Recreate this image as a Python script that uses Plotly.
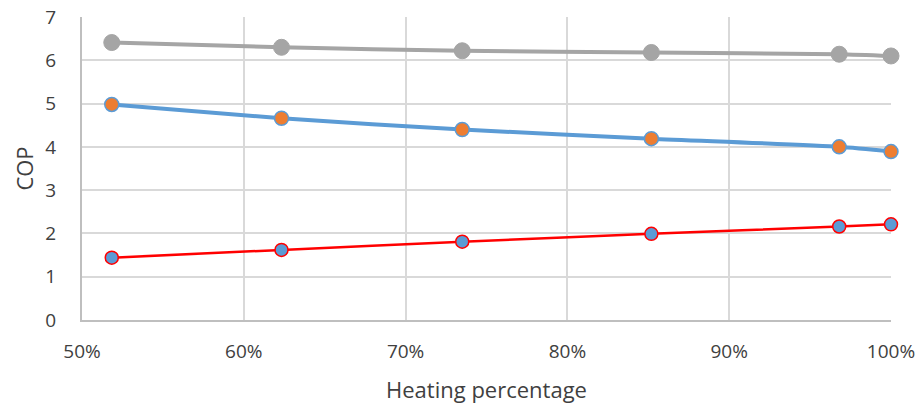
import plotly.graph_objects as go

# Heating percentage (fraction of full load)
heating_pct = [0.5184, 0.6233, 0.735, 0.8519, 0.968, 1.0]

# COP series
cop_gray = [6.41, 6.30, 6.22, 6.18, 6.14, 6.10]
cop_blue = [4.98, 4.66, 4.40, 4.19, 4.00, 3.89]
cop_red = [1.44, 1.62, 1.81, 1.99, 2.16, 2.21]

fig = go.Figure()

fig.add_trace(go.Scatter(
    x=heating_pct, y=cop_gray, mode="lines+markers",
    line=dict(color="#a5a5a5", width=4, shape="spline", smoothing=0.6),
    marker=dict(size=16, color="#a5a5a5", line=dict(color="#a5a5a5", width=1)),
    cliponaxis=False, showlegend=False,
))
fig.add_trace(go.Scatter(
    x=heating_pct, y=cop_blue, mode="lines+markers",
    line=dict(color="#5b9bd5", width=4, shape="spline", smoothing=0.6),
    marker=dict(size=14, color="#ed7d31", line=dict(color="#5b9bd5", width=1.5)),
    cliponaxis=False, showlegend=False,
))
fig.add_trace(go.Scatter(
    x=heating_pct, y=cop_red, mode="lines+markers",
    line=dict(color="#ff0000", width=2.5, shape="spline", smoothing=0.6),
    marker=dict(size=13, color="#5b9bd5", line=dict(color="#ff0000", width=1.5)),
    cliponaxis=False, showlegend=False,
))

fig.update_layout(
    width=922, height=404,
    margin=dict(l=82, r=31, t=17, b=84),
    paper_bgcolor="white", plot_bgcolor="white",
    font=dict(family="Open Sans", color="#404040", size=19),
    xaxis=dict(
        range=[0.5, 1.0], dtick=0.1, tick0=0.5, tickformat=".0%",
        showgrid=True, gridcolor="#d9d9d9", gridwidth=1.8,
        showline=True, linecolor="#bfbfbf", linewidth=2,
        zeroline=False, ticks="", ticklabelstandoff=13, automargin=False,
        title=dict(text="Heating percentage", font=dict(size=22), standoff=20),
    ),
    yaxis=dict(
        range=[0, 7], dtick=1,
        showgrid=True, gridcolor="#d9d9d9", gridwidth=1.8,
        showline=True, linecolor="#bfbfbf", linewidth=2,
        zeroline=False, ticks="", ticklabelstandoff=20, automargin=False,
        title=dict(text="COP", font=dict(size=22), standoff=6),
    ),
)

fig.write_html("out.html")
